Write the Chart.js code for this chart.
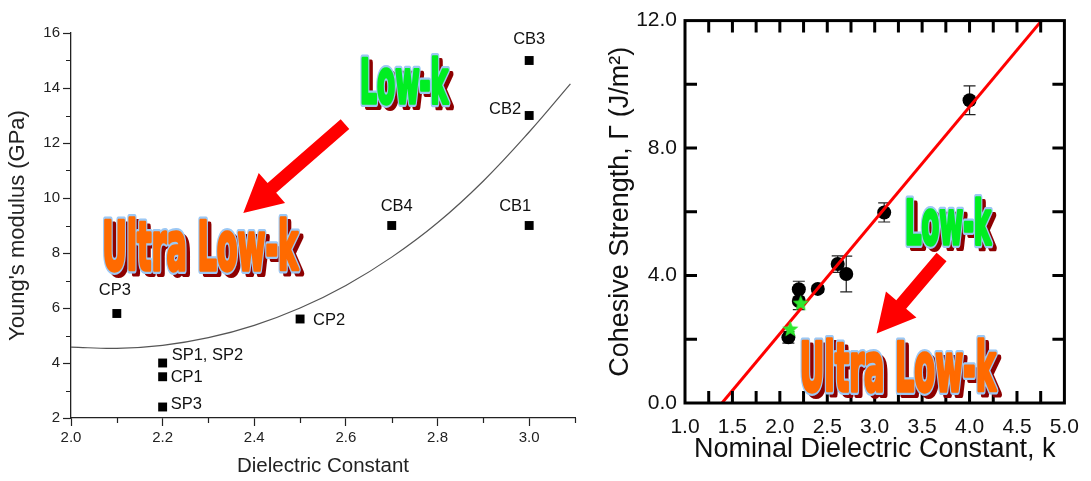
<!DOCTYPE html>
<html>
<head>
<meta charset="utf-8">
<script src="https://cdn.jsdelivr.net/npm/chart.js@4.4.1/dist/chart.umd.min.js"></script>
<style>
  html, body { margin: 0; padding: 0; background: #fff; }
  #wrap { position: relative; width: 1091px; height: 481px; overflow: hidden; }
  #modulusChart { position: absolute; left: 0; top: 0; }
  #cohesiveChart { position: absolute; left: 590px; top: 0; }
</style>
</head>
<body>
<div id="wrap">
  <canvas id="modulusChart" width="590" height="481"></canvas>
  <canvas id="cohesiveChart" width="501" height="481"></canvas>
</div>
<script>
// left panel: Young's modulus vs dielectric constant
const sampleNames = ["CP3", "SP1, SP2", "CP1", "SP3", "CP2", "CB4", "CB1", "CB2", "CB3"];
const sampleK = [2.1, 2.2, 2.2, 2.2, 2.5, 2.7, 3.0, 3.0, 3.0];
const sampleModulus = [5.8, 4.0, 3.5, 2.4, 5.6, 9.0, 9.0, 13.0, 15.0];
const trendK = [2.0, 2.1, 2.2, 2.3, 2.4, 2.5, 2.6, 2.7, 2.8, 2.9, 3.0, 3.09];
const trendModulus = [4.58, 4.53, 4.64, 4.92, 5.37, 6.0, 6.82, 7.85, 9.1, 10.62, 12.4, 14.15];
const modulusXTicks = [2.0, 2.2, 2.4, 2.6, 2.8, 3.0];
const modulusXMinor = [2.1, 2.3, 2.5, 2.7, 2.9, 3.1];
const modulusYTicks = [2, 4, 6, 8, 10, 12, 14, 16];
const modulusYMinor = [3, 5, 7, 9, 11, 13, 15];

// right panel: cohesive strength vs nominal k
const filmK = [2.09, 2.2, 2.2, 2.4, 2.61, 2.7, 3.1, 4.0];
const filmStrength = [2.06, 3.57, 3.2, 3.58, 4.36, 4.05, 5.98, 9.5];
const filmError = [0.18, 0.25, 0.27, 0.1, 0.26, 0.56, 0.3, 0.45];
const starK = [2.11, 2.22];
const starStrength = [2.31, 3.12];
const fitK = [1.39, 4.76];
const fitStrength = [0, 12];
const strengthXTicks = [1.0, 1.5, 2.0, 2.5, 3.0, 3.5, 4.0, 4.5, 5.0];
const strengthXMinor = [1.25, 1.5, 1.75, 2.0, 2.25, 2.5, 2.75, 3.0, 3.25, 3.5, 3.75, 4.0, 4.25, 4.5, 4.75];
const strengthYTicks = [0, 4, 8, 12];
const strengthYMinor = [2, 4, 6, 8, 10];

const FONT = '"Liberation Sans", Arial, sans-serif';
const FANCY = '"Liberation Sans Narrow", "DejaVu Sans Condensed", sans-serif';

function toPoints(xs, ys) {
  return xs.map((x, i) => ({ x, y: ys[i] }));
}

function setTicks(values) {
  return scale => { scale.ticks = values.map(value => ({ value })); };
}

function drawFancyText(ctx, text, x, baseline, width, capHeight, fill) {
  const size = capHeight / 0.73;
  ctx.save();
  ctx.font = `bold ${size}px ${FANCY}`;
  const sx = width / ctx.measureText(text).width;
  ctx.lineJoin = "round";
  ctx.translate(x, baseline);
  ctx.scale(sx, 1);
  // dark red drop shadow
  ctx.fillStyle = "#8e0000";
  ctx.strokeStyle = "#8e0000";
  ctx.lineWidth = 6;
  ctx.strokeText(text, 4 / sx, 4);
  ctx.fillText(text, 4 / sx, 4);
  // light blue outline, then a thickened fill
  ctx.strokeStyle = "#9cc8f4";
  ctx.lineWidth = 8;
  ctx.strokeText(text, 0, 0);
  ctx.strokeStyle = fill;
  ctx.lineWidth = 3.5;
  ctx.strokeText(text, 0, 0);
  ctx.fillStyle = fill;
  ctx.fillText(text, 0, 0);
  ctx.restore();
}

function drawArrow(ctx, x1, y1, x2, y2) {
  const hw = 6.5, hl = 38, hh = 20;
  const dx = x2 - x1, dy = y2 - y1, len = Math.hypot(dx, dy);
  const ux = dx / len, uy = dy / len, px = -uy, py = ux;
  const bx = x2 - ux * hl, by = y2 - uy * hl;
  ctx.save();
  ctx.fillStyle = "#ff0000";
  ctx.beginPath();
  ctx.moveTo(x1 + px * hw, y1 + py * hw);
  ctx.lineTo(bx + px * hw, by + py * hw);
  ctx.lineTo(bx + px * hh, by + py * hh);
  ctx.lineTo(x2, y2);
  ctx.lineTo(bx - px * hh, by - py * hh);
  ctx.lineTo(bx - px * hw, by - py * hw);
  ctx.lineTo(x1 - px * hw, y1 - py * hw);
  ctx.closePath();
  ctx.fill();
  ctx.restore();
}

// annotation anchors are in data units, sizes in px
function drawCallouts(chart, callouts) {
  const { ctx, scales: { x, y } } = chart;
  drawArrow(ctx,
    x.getPixelForValue(callouts.arrow[0]), y.getPixelForValue(callouts.arrow[1]),
    x.getPixelForValue(callouts.arrow[2]), y.getPixelForValue(callouts.arrow[3]));
  callouts.texts.forEach(t => {
    drawFancyText(ctx, t.text, x.getPixelForValue(t.x), y.getPixelForValue(t.y), t.w, t.h, t.fill);
  });
}

function makeStar(r, color) {
  const c = document.createElement("canvas");
  c.width = c.height = Math.ceil(2 * r + 2);
  const g = c.getContext("2d");
  g.fillStyle = color;
  g.beginPath();
  for (let i = 0; i < 10; i++) {
    const a = -Math.PI / 2 + i * Math.PI / 5;
    const rr = i % 2 ? r * 0.45 : r;
    g.lineTo(c.width / 2 + rr * Math.cos(a), c.height / 2 + rr * Math.sin(a));
  }
  g.closePath();
  g.fill();
  return c;
}

// ---------- left chart ----------
const labelPlacement = [
  [-2, -19, "center"], [9, -3, "left"], [8, 5, "left"], [8, 2, "left"], [13, 6, "left"],
  [5, -15, "center"], [-14, -15, "center"], [-8, -2, "right"], [0, -17, "center"]
];

const modulusDecor = {
  id: "modulusDecor",
  afterDraw(chart) {
    const { ctx, scales: { x, y }, chartArea } = chart;
    ctx.save();
    ctx.strokeStyle = "#222";
    ctx.lineWidth = 1.2;
    ctx.beginPath();
    modulusXMinor.forEach(v => {
      const px = Math.round(x.getPixelForValue(v)) + 0.5;
      ctx.moveTo(px, chartArea.bottom);
      ctx.lineTo(px, chartArea.bottom + 5);
    });
    modulusYMinor.forEach(v => {
      const py = Math.round(y.getPixelForValue(v)) + 0.5;
      ctx.moveTo(chartArea.left, py);
      ctx.lineTo(chartArea.left - 5, py);
    });
    ctx.stroke();

    const meta = chart.getDatasetMeta(0);
    ctx.fillStyle = "#111";
    ctx.font = `16.5px ${FONT}`;
    meta.data.forEach((pt, i) => {
      const [dx, dy, align] = labelPlacement[i];
      ctx.textAlign = align;
      ctx.textBaseline = "alphabetic";
      ctx.fillText(sampleNames[i], pt.x + dx, pt.y + dy);
    });
    ctx.restore();

    drawCallouts(chart, {
      arrow: [2.598, 12.69, 2.376, 9.455],
      texts: [
        { text: "Low-k", x: 2.631, y: 13.45, w: 88, h: 44, fill: "#00ee22" },
        { text: "Ultra Low-k", x: 2.068, y: 7.38, w: 196, h: 50, fill: "#ff6a00" }
      ]
    });
  }
};

new Chart(document.getElementById("modulusChart"), {
  type: "scatter",
  data: {
    datasets: [
      {
        label: "Samples",
        data: toPoints(sampleK, sampleModulus),
        pointStyle: "rect",
        pointRadius: 6.3,
        backgroundColor: "#000",
        borderWidth: 0
      },
      {
        label: "Trend",
        type: "line",
        data: toPoints(trendK, trendModulus),
        borderColor: "#555",
        borderWidth: 1.2,
        pointRadius: 0,
        tension: 0.4,
        fill: false
      }
    ]
  },
  options: {
    responsive: false,
    animation: false,
    events: [],
    layout: { padding: { left: 0, top: 33, right: 15, bottom: 0 } },
    plugins: { legend: { display: false }, tooltip: { enabled: false } },
    scales: {
      x: {
        type: "linear",
        min: 2.0,
        max: 3.1,
        afterBuildTicks: setTicks(modulusXTicks),
        afterFit: s => { s.height = 63; },
        ticks: { callback: v => v.toFixed(1), font: { family: FONT, size: 15 }, color: "#222", padding: 3, maxRotation: 0, autoSkip: false },
        grid: { drawOnChartArea: false, tickLength: 8, color: "#222", tickWidth: 1.2 },
        border: { color: "#222", width: 1.3 },
        title: { display: true, text: "Dielectric Constant", font: { family: FONT, size: 20.5 }, color: "#222", padding: { top: 0, bottom: 2 } }
      },
      y: {
        min: 2,
        max: 16,
        afterBuildTicks: setTicks(modulusYTicks),
        afterFit: s => { s.width = 71; },
        ticks: { font: { family: FONT, size: 15 }, color: "#222", padding: 3, autoSkip: false },
        grid: { drawOnChartArea: false, tickLength: 8, color: "#222", tickWidth: 1.2 },
        border: { color: "#222", width: 1.3 },
        title: { display: true, text: "Young's modulus (GPa)", font: { family: FONT, size: 22 }, color: "#222", padding: { top: 5, bottom: 0 } }
      }
    }
  },
  plugins: [modulusDecor]
});

// ---------- right chart ----------
const strengthDecor = {
  id: "strengthDecor",
  beforeDatasetsDraw(chart) {
    const { ctx, scales: { x, y } } = chart;
    ctx.save();
    ctx.strokeStyle = "#222";
    ctx.lineWidth = 1.2;
    ctx.beginPath();
    filmK.forEach((k, i) => {
      const px = x.getPixelForValue(k);
      const top = y.getPixelForValue(filmStrength[i] + filmError[i]);
      const bot = y.getPixelForValue(filmStrength[i] - filmError[i]);
      ctx.moveTo(px, top); ctx.lineTo(px, bot);
      ctx.moveTo(px - 6, top); ctx.lineTo(px + 6, top);
      ctx.moveTo(px - 6, bot); ctx.lineTo(px + 6, bot);
    });
    ctx.stroke();
    ctx.restore();
  },
  afterDraw(chart) {
    const { ctx, scales: { x, y }, chartArea: a } = chart;
    ctx.save();
    ctx.strokeStyle = "#000";
    ctx.lineWidth = 3;
    ctx.beginPath();
    strengthXMinor.forEach(v => {
      const px = x.getPixelForValue(v);
      ctx.moveTo(px, a.bottom); ctx.lineTo(px, a.bottom - 12);
      ctx.moveTo(px, a.top); ctx.lineTo(px, a.top + 12);
    });
    strengthYMinor.forEach(v => {
      const py = y.getPixelForValue(v);
      ctx.moveTo(a.left, py); ctx.lineTo(a.left + 12, py);
      ctx.moveTo(a.right, py); ctx.lineTo(a.right - 12, py);
    });
    ctx.stroke();
    ctx.strokeRect(a.left, a.top, a.right - a.left, a.bottom - a.top);
    ctx.restore();

    drawCallouts(chart, {
      arrow: [3.705, 4.58, 3.02, 2.18],
      texts: [
        { text: "Low-k", x: 3.32, y: 4.99, w: 86, h: 44, fill: "#00ee22" },
        { text: "Ultra Low-k", x: 2.21, y: 0.37, w: 196, h: 50, fill: "#ff6a00" }
      ]
    });
  }
};

new Chart(document.getElementById("cohesiveChart"), {
  type: "scatter",
  data: {
    datasets: [
      {
        label: "Stars",
        data: toPoints(starK, starStrength),
        pointStyle: makeStar(8.5, "#2ee82e"),
        pointRadius: 8
      },
      {
        label: "Fit",
        type: "line",
        data: toPoints(fitK, fitStrength),
        borderColor: "#ff0000",
        borderWidth: 3,
        pointRadius: 0,
        fill: false
      },
      {
        label: "Films",
        data: toPoints(filmK, filmStrength),
        pointStyle: "circle",
        pointRadius: 7,
        backgroundColor: "#000",
        borderWidth: 0
      }
    ]
  },
  options: {
    responsive: false,
    animation: false,
    events: [],
    layout: { padding: { left: 0, top: 18, right: 20, bottom: 0 } },
    plugins: { legend: { display: false }, tooltip: { enabled: false } },
    scales: {
      x: {
        type: "linear",
        min: 1.0,
        max: 5.0,
        afterBuildTicks: setTicks(strengthXTicks),
        afterFit: s => { s.height = 78; },
        ticks: { callback: v => v.toFixed(1), font: { family: FONT, size: 21 }, color: "#111", padding: 12, maxRotation: 0, autoSkip: false },
        grid: { display: false, drawTicks: false },
        border: { display: false },
        title: { display: true, text: "Nominal Dielectric Constant, k", font: { family: FONT, size: 27 }, color: "#111", padding: { top: 0, bottom: 15 } }
      },
      y: {
        min: 0,
        max: 12,
        afterBuildTicks: setTicks(strengthYTicks),
        afterFit: s => { s.width = 95; },
        ticks: { callback: v => v.toFixed(1), font: { family: FONT, size: 21 }, color: "#111", padding: 8, autoSkip: false },
        grid: { display: false, drawTicks: false },
        border: { display: false },
        title: { display: true, text: "Cohesive Strength, \u0393 (J/m\u00B2)", font: { family: FONT, size: 27 }, color: "#111", padding: { top: 14, bottom: 0 } }
      }
    }
  },
  plugins: [strengthDecor]
});
</script>
</body>
</html>
